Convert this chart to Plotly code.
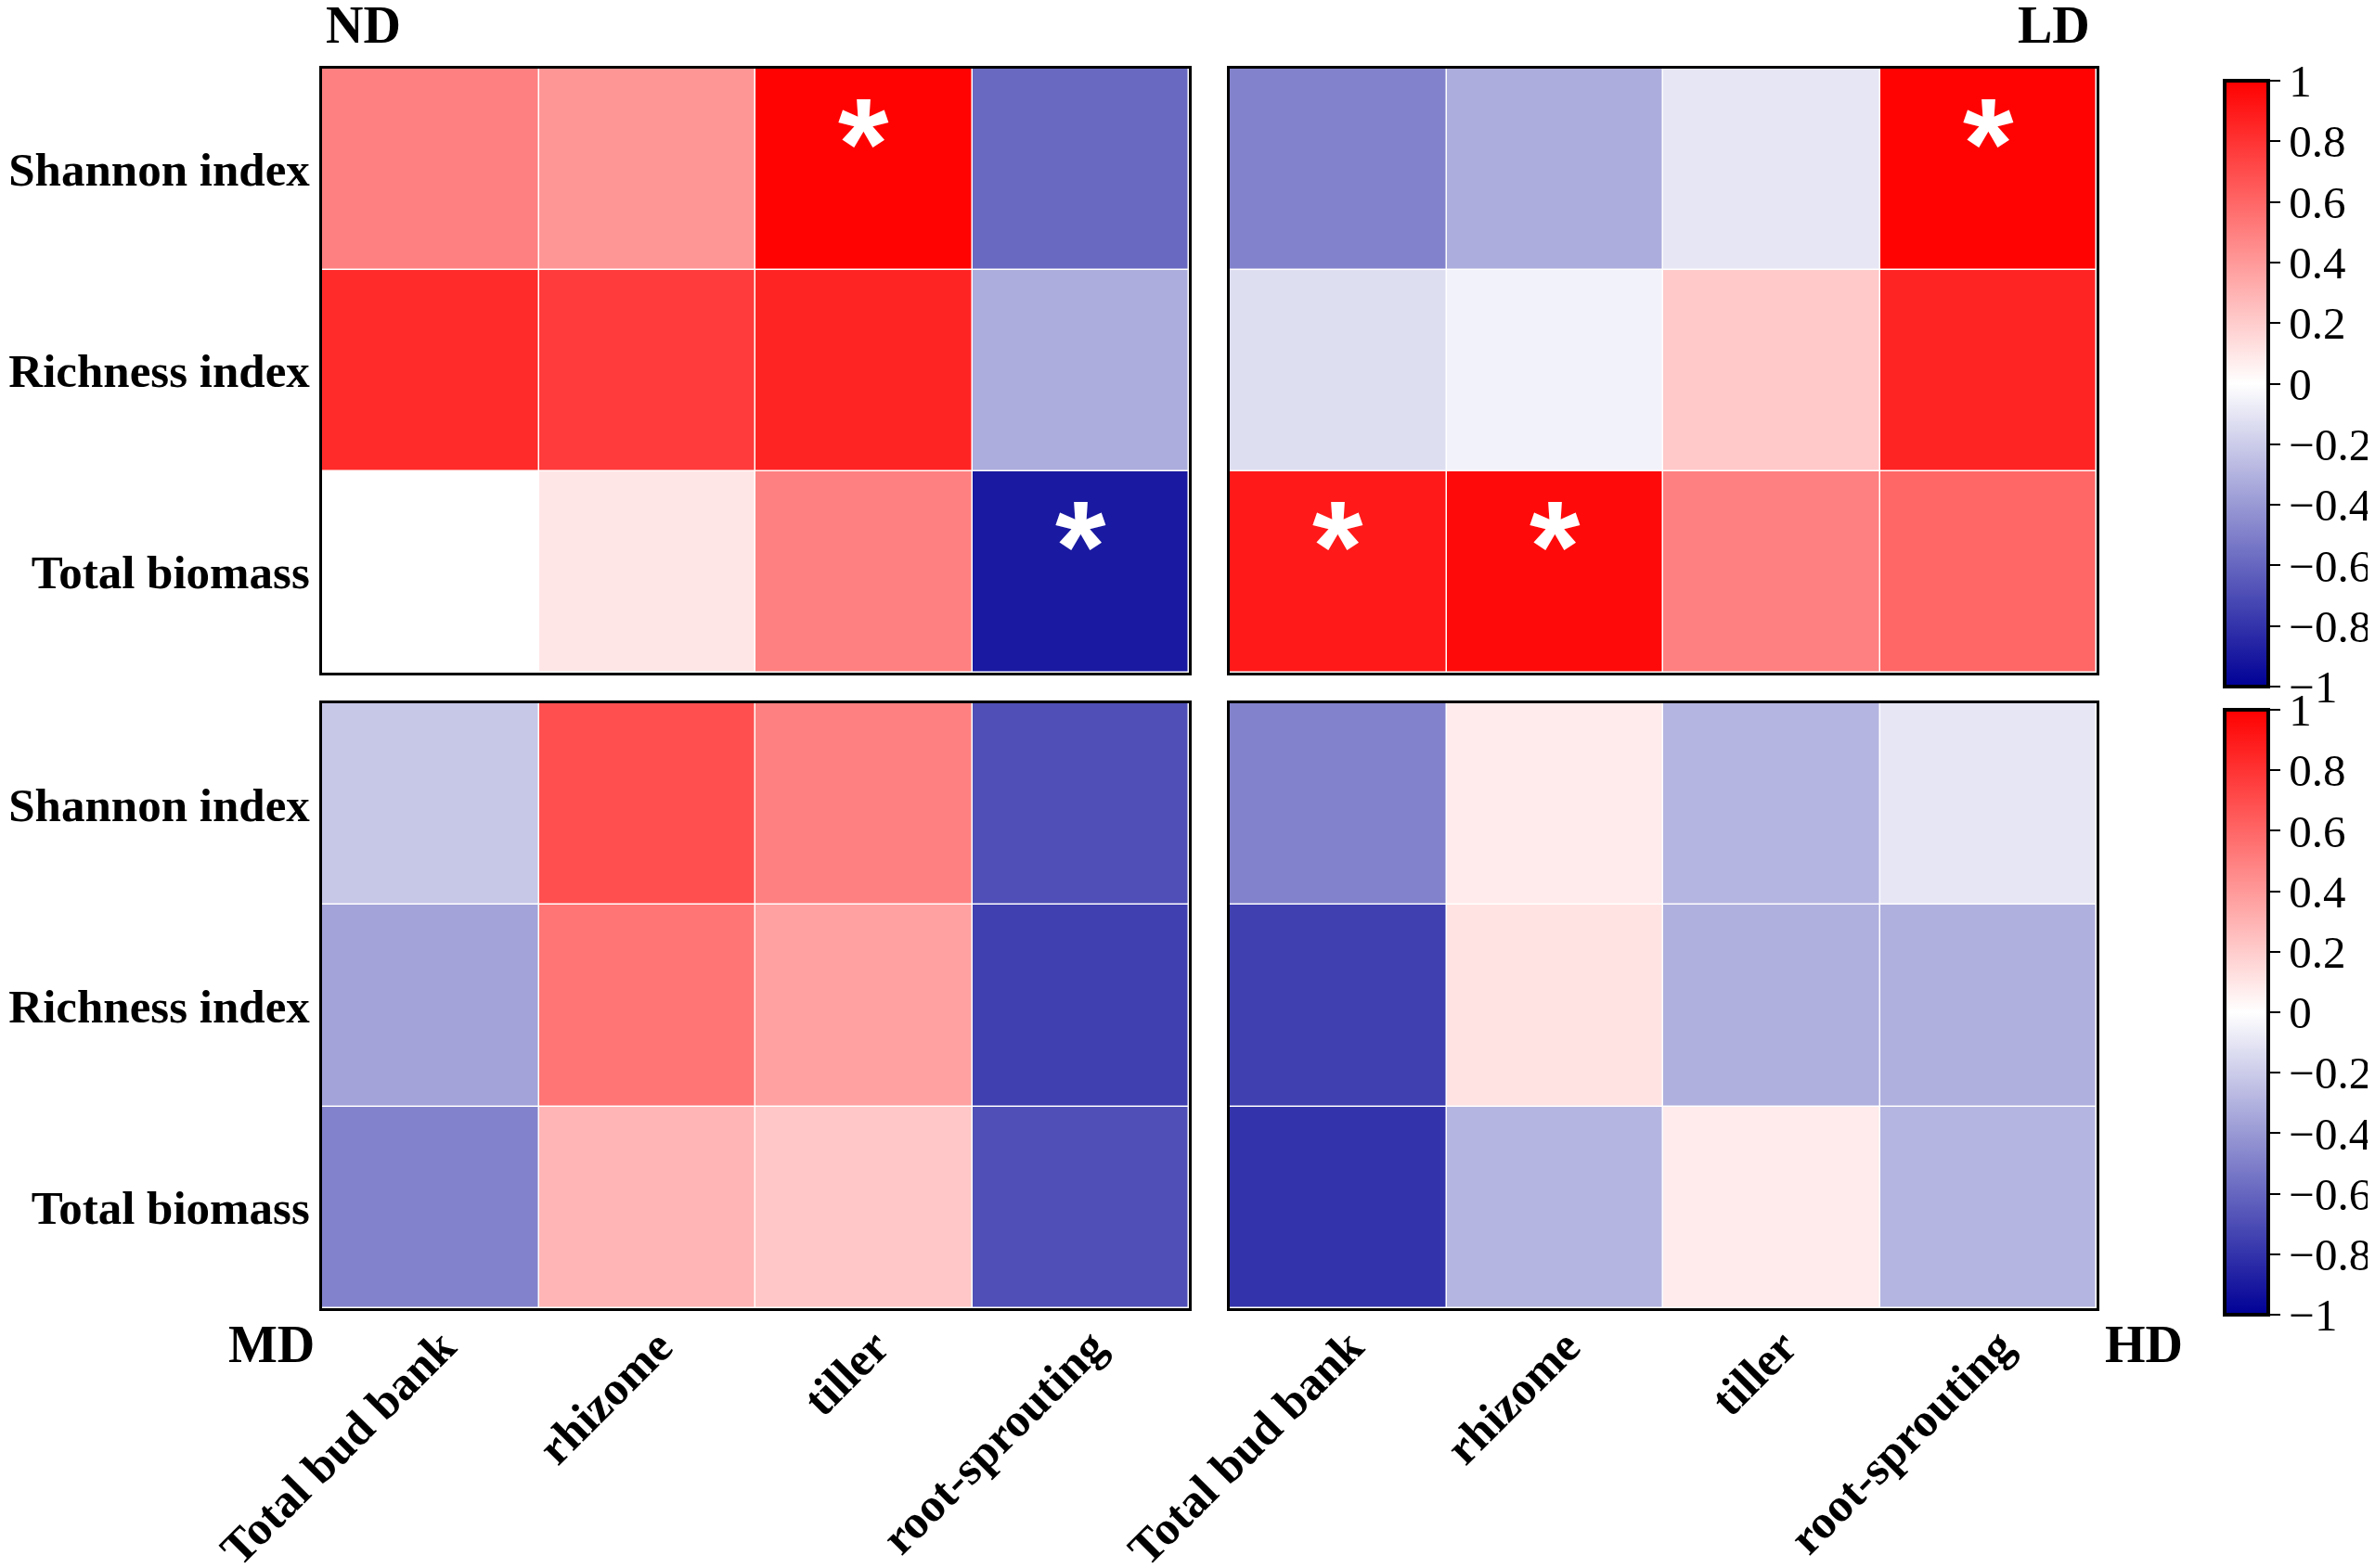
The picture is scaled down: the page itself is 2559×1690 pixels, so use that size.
import plotly.graph_objects as go
from plotly.subplots import make_subplots

buds = ["Total bud bank", "rhizome", "tiller", "root-sprouting"]
indices = ["Shannon index", "Richness index", "Total biomass"]

# correlation values, rows = indices, cols = buds
nd = [[0.50, 0.41, 0.99, -0.59],
      [0.83, 0.77, 0.86, -0.32],
      [0.00, 0.10, 0.50, -0.90]]
ld = [[-0.49, -0.32, -0.10, 0.99],
      [-0.13, -0.05, 0.21, 0.86],
      [0.90, 0.96, 0.50, 0.60]]
md = [[-0.22, 0.69, 0.50, -0.69],
      [-0.36, 0.54, 0.37, -0.75],
      [-0.49, 0.29, 0.22, -0.69]]
hd = [[-0.49, 0.08, -0.29, -0.10],
      [-0.75, 0.11, -0.31, -0.31],
      [-0.80, -0.29, 0.08, -0.29]]

# significant cells (row, col)
nd_sig = [(0, 2), (2, 3)]
ld_sig = [(0, 3), (2, 0), (2, 1)]
md_sig = []
hd_sig = []

cb_ticks = [-1, -0.8, -0.6, -0.4, -0.2, 0, 0.2, 0.4, 0.6, 0.8, 1]
panel_names = ["ND", "LD", "MD", "HD"]

W, H = 2559, 1690
FONT = "Liberation Serif"
scale = [[0, "rgb(0,0,150)"], [0.5, "rgb(255,255,255)"], [1, "rgb(255,0,0)"]]

fig = make_subplots(rows=2, cols=2)

panels = [(nd, nd_sig, 1, 1, "coloraxis"), (ld, ld_sig, 1, 2, "coloraxis"),
          (md, md_sig, 2, 1, "coloraxis2"), (hd, hd_sig, 2, 2, "coloraxis2")]

for z, sig, r, c, cax in panels:
    fig.add_trace(go.Heatmap(z=z, x=buds, y=indices, coloraxis=cax,
                             xgap=1.5, ygap=1.5, hoverongaps=False),
                  row=r, col=c)
    for (i, j) in sig:
        fig.add_annotation(x=buds[j], y=indices[i], text="*", showarrow=False, yshift=28,
                           font=dict(family="Liberation Sans", size=140, color="white",
                                     weight="bold"),
                           row=r, col=c)

xdom = [[339 / W, 1273 / W], [1317 / W, 2251 / W]]
ydom = [[1 - 717 / H, 1 - 66 / H], [1 - 1402 / H, 1 - 750 / H]]

for r in (1, 2):
    for c in (1, 2):
        fig.update_xaxes(domain=xdom[c - 1], showline=True, mirror=True, linecolor="black",
                         linewidth=3, ticks="", showgrid=False, automargin=False,
                         showticklabels=(r == 2), tickangle=-45,
                         ticklabelstandoff=-12, ticklabelshift=12,
                         tickfont=dict(family=FONT, size=51, color="black", weight="bold"),
                         row=r, col=c)
        fig.update_yaxes(domain=ydom[r - 1], showline=True, mirror=True, linecolor="black",
                         linewidth=3, ticks="", showgrid=False, autorange="reversed",
                         showticklabels=(c == 1), automargin=False,
                         tickfont=dict(family=FONT, size=51, color="black", weight="bold"),
                         row=r, col=c)

cb_common = dict(thickness=47, thicknessmode="pixels", lenmode="fraction",
                 x=2389 / W, xanchor="left", xpad=0, ypad=0, tickvals=cb_ticks,
                 ticks="outside", ticklen=11, tickwidth=2, tickcolor="black",
                 outlinewidth=4, outlinecolor="black",
                 tickfont=dict(family=FONT, size=49, color="black"))

fig.update_layout(
    width=W, height=H,
    margin=dict(l=0, r=0, t=0, b=0, autoexpand=False),
    paper_bgcolor="white", plot_bgcolor="white",
    coloraxis=dict(colorscale=scale, cmin=-1, cmax=1,
                   colorbar=dict(y=1 - 405.5 / H, len=653 / H, yanchor="middle", **cb_common)),
    coloraxis2=dict(colorscale=scale, cmin=-1, cmax=1,
                    colorbar=dict(y=1 - 1083 / H, len=652 / H, yanchor="middle", **cb_common)),
)

label_font = dict(family=FONT, size=56, color="black", weight="bold")
label_pos = [(341 / W, 1 - 19 / H, "left"), (2246 / W, 1 - 19 / H, "right"),
             (333 / W, 1 - 1441 / H, "right"), (2258 / W, 1 - 1441 / H, "left")]
for name, (x, y, anchor) in zip(panel_names, label_pos):
    fig.add_annotation(x=x, y=y, xref="paper", yref="paper", text=name, showarrow=False,
                       xanchor=anchor, yanchor="middle", font=label_font)

fig.write_html("out.html")
